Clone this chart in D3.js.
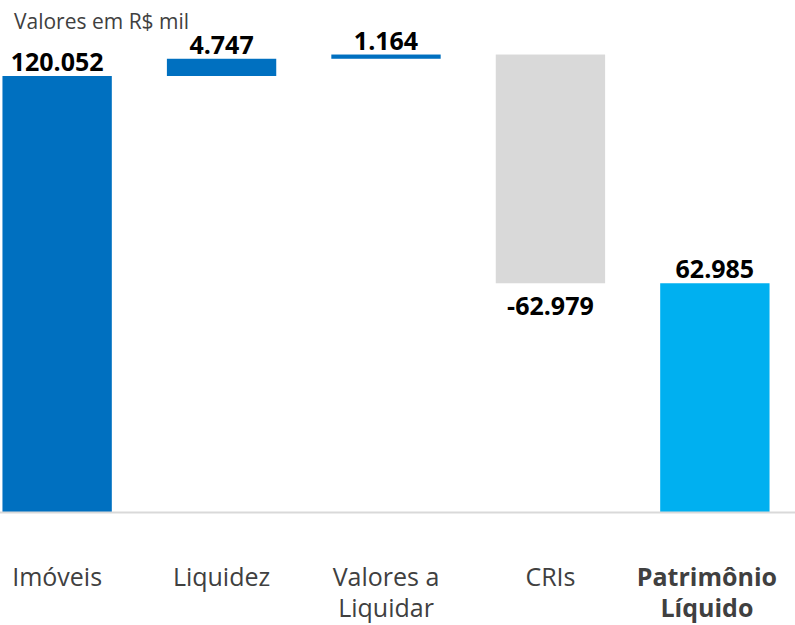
<!DOCTYPE html>
<html>
<head>
<meta charset="utf-8">
<script src="https://cdn.jsdelivr.net/npm/d3@7"></script>
<style>
  body { margin: 0; background: #fff; }
  svg { display: block; font-family: "Open Sans", sans-serif; }
</style>
</head>
<body>
<svg id="chart" width="795" height="625"></svg>
<script>
const categories = ['Imóveis', 'Liquidez', 'Valores a Liquidar', 'CRIs', 'Patrimônio Líquido']
const catLines = [['Imóveis'], ['Liquidez'], ['Valores a', 'Liquidar'], ['CRIs'], ['Patrimônio', 'Líquido']]
const values = [120052, 4747, 1164, -62979, 62985]
const valueLabels = ['120.052', '4.747', '1.164', '-62.979', '62.985']
const kinds = ['up', 'up', 'up', 'down', 'total']

const colors = { up: '#0070C0', down: '#D9D9D9', total: '#00B0F0' }

// running totals for the waterfall
let run = 0
const bars = values.map((v, i) => {
	let start, end
	if (kinds[i] === 'total') { start = 0; end = v }
	else { start = run; end = run + v; run = end }
	return { cat: categories[i], v, start, end, kind: kinds[i], label: valueLabels[i], lines: catLines[i] }
})

const svg = d3.select('#chart')

const x = d3.scaleBand()
	.domain(categories)
	.range([-25, 797])
	.paddingInner(0.335)
	.paddingOuter(0.167)

const y = d3.scaleLinear()
	.domain([0, 120052])
	.range([512, 76])

svg.append('text')
	.attr('x', 14)
	.attr('y', 29)
	.attr('font-size', 21)
	.attr('fill', '#404040')
	.text('Valores em R$ mil')

svg.selectAll('rect.bar')
	.data(bars)
	.enter()
	.append('rect')
	.attr('class', 'bar')
	.attr('x', d => x(d.cat))
	.attr('width', x.bandwidth())
	.attr('y', d => y(Math.max(d.start, d.end)))
	.attr('height', d => Math.abs(y(d.start) - y(d.end)))
	.attr('fill', d => colors[d.kind])

// baseline
svg.append('line')
	.attr('x1', 0)
	.attr('x2', 795)
	.attr('y1', y(0) + 0.5)
	.attr('y2', y(0) + 0.5)
	.attr('stroke', '#D9D9D9')
	.attr('stroke-width', 2)

svg.selectAll('text.val')
	.data(bars)
	.enter()
	.append('text')
	.attr('class', 'val')
	.attr('x', d => x(d.cat) + x.bandwidth() / 2)
	.attr('y', d => d.v < 0 ? y(d.end) + 32 : y(Math.max(d.start, d.end)) - 5)
	.attr('text-anchor', 'middle')
	.attr('font-size', 25)
	.attr('font-weight', 700)
	.attr('fill', '#000')
	.text(d => d.label)

const cat = svg.selectAll('text.cat')
	.data(bars)
	.enter()
	.append('text')
	.attr('class', 'cat')
	.attr('x', d => x(d.cat) + x.bandwidth() / 2)
	.attr('y', 586)
	.attr('text-anchor', 'middle')
	.attr('font-size', 25)
	.attr('font-weight', d => d.kind === 'total' ? 700 : 400)
	.attr('fill', '#404040')

cat.selectAll('tspan')
	.data(d => d.lines)
	.enter()
	.append('tspan')
	.attr('x', function () { return d3.select(this.parentNode).attr('x') })
	.attr('dy', (d, i) => i === 0 ? 0 : 31)
	.text(d => d)

// keep the last label inside the right edge, like the original
cat.each(function () {
	const t = d3.select(this)
	const w = this.getBBox().width
	const cx = Math.min(+t.attr('x'), 777 - w / 2)
	t.attr('x', cx)
	t.selectAll('tspan').attr('x', cx)
})
</script>
</body>
</html>
